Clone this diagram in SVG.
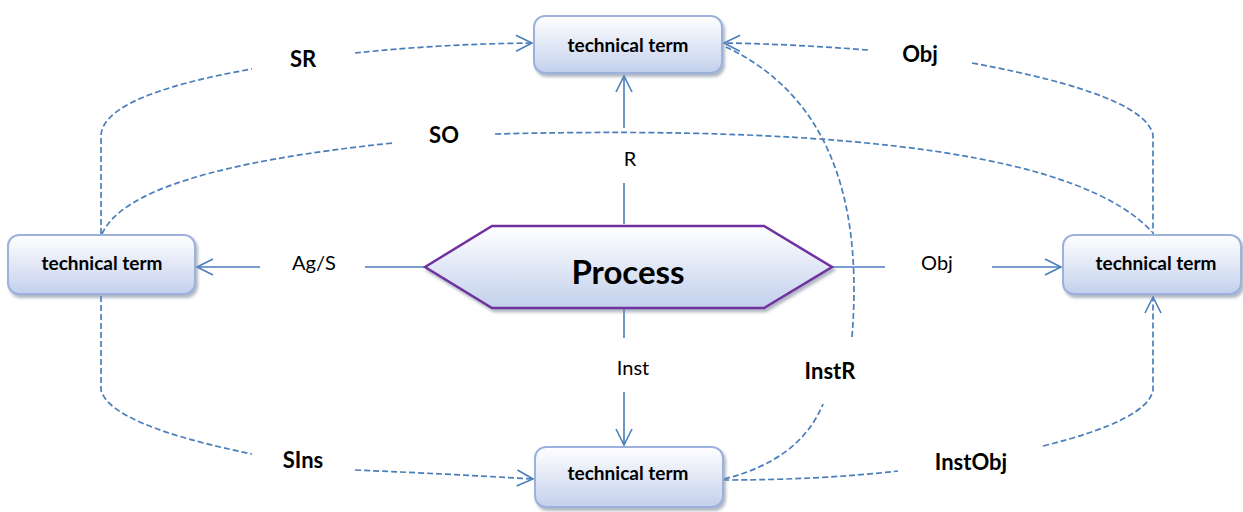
<svg xmlns="http://www.w3.org/2000/svg" width="1243" height="512" viewBox="0 0 1243 512">
<defs>
<linearGradient id="g" x1="0" y1="0" x2="0" y2="1">
<stop offset="0" stop-color="#FFFFFF"/>
<stop offset="1" stop-color="#C3D0EC"/>
</linearGradient>
<filter id="sh" x="-10%" y="-20%" width="130%" height="150%">
<feDropShadow dx="2" dy="3" stdDeviation="1.5" flood-color="#7A869C" flood-opacity="0.6"/>
</filter>
<marker id="arr" viewBox="0 0 20 20" refX="18" refY="10" markerWidth="20" markerHeight="20" markerUnits="userSpaceOnUse" orient="auto">
<path d="M2,2 L18,10 L2,18" fill="none" stroke="#4A7EBB" stroke-width="1.6"/>
</marker>
</defs>
<style>
.node{fill:url(#g);stroke:#9DB1DD;stroke-width:2;filter:url(#sh)}
.proc{fill:url(#g);stroke:#7030A0;stroke-width:2.5;filter:url(#sh)}
.tt{font-family:Lato,"Open Sans",sans-serif;font-weight:bold;font-size:19px;fill:#000;text-anchor:middle}
.pt{font-family:Lato,"Open Sans",sans-serif;font-weight:bold;font-size:33px;fill:#000;text-anchor:middle}
.bl{font-family:Lato,"Open Sans",sans-serif;font-weight:bold;font-size:22px;fill:#000;text-anchor:middle}
.rl{font-family:Lato,"Open Sans",sans-serif;font-size:20px;fill:#000;text-anchor:middle}
.solid{fill:none;stroke:#4A7EBB;stroke-width:1.6}
.dash{fill:none;stroke:#4A7EBB;stroke-width:1.7;stroke-dasharray:6,3}
</style>
<g id="connectors">
<line class="solid" x1="624" y1="128" x2="624" y2="76" marker-end="url(#arr)"/>
<line class="solid" x1="624" y1="224" x2="624" y2="183"/>
<line class="solid" x1="425" y1="267" x2="365" y2="267"/>
<line class="solid" x1="260" y1="267" x2="197" y2="267" marker-end="url(#arr)"/>
<line class="solid" x1="832" y1="267" x2="885" y2="267"/>
<line class="solid" x1="992" y1="267" x2="1061" y2="267" marker-end="url(#arr)"/>
<line class="solid" x1="624" y1="309" x2="624" y2="338"/>
<line class="solid" x1="624" y1="392" x2="624" y2="445" marker-end="url(#arr)"/>
<path class="dash" d="M101,234 L101,135 Q104,95 252,69"/>
<path class="dash" d="M355,53 Q440,44 532,43" marker-end="url(#arr)"/>
<path class="dash" d="M102,234 Q130,170 393,143"/>
<path class="dash" d="M495,134 Q1050,120 1152,232"/>
<path class="dash" d="M868,50 Q790,44 724,43" marker-end="url(#arr)"/>
<path class="dash" d="M972,63 Q1145,95 1153,135 L1153,234"/>
<path class="dash" d="M852,337 Q870,115 726,47"/>
<path class="dash" d="M724,479 Q800,460 823,404"/>
<path class="dash" d="M101,296 L101,390 Q110,425 252,454"/>
<path class="dash" d="M355,470 Q450,474 533,479" marker-end="url(#arr)"/>
<path class="dash" d="M723,480 Q820,480 898,471"/>
<path class="dash" d="M1043,446 Q1148,420 1153,390 L1153,297" marker-end="url(#arr)"/>
</g>
<g id="node-top">
<rect class="node" x="534" y="16" width="188" height="57" rx="11"/>
<text class="tt" x="628" y="52">technical term</text>
</g>
<g id="node-left">
<rect class="node" x="8" y="235" width="187" height="59" rx="11"/>
<text class="tt" x="102" y="270">technical term</text>
</g>
<g id="node-right">
<rect class="node" x="1063" y="235" width="178" height="59" rx="11"/>
<text class="tt" x="1156" y="270">technical term</text>
</g>
<g id="node-bottom">
<rect class="node" x="535" y="447" width="188" height="60" rx="11"/>
<text class="tt" x="628" y="480">technical term</text>
</g>
<g id="node-process">
<polygon class="proc" points="425,267 492,226 764,226 832,267 764,308 492,308"/>
<text class="pt" x="628" y="284">Process</text>
</g>
<g id="labels">
<text class="rl" x="630" y="166">R</text>
<text class="rl" x="314" y="270">Ag/S</text>
<text class="rl" x="937" y="270">Obj</text>
<text class="rl" x="633" y="375">Inst</text>
<text class="bl" x="303" y="67">SR</text>
<text class="bl" x="444" y="143">SO</text>
<text class="bl" x="920" y="62">Obj</text>
<text class="bl" x="830" y="379">InstR</text>
<text class="bl" x="303" y="468">SIns</text>
<text class="bl" x="971" y="470">InstObj</text>
</g>
</svg>
